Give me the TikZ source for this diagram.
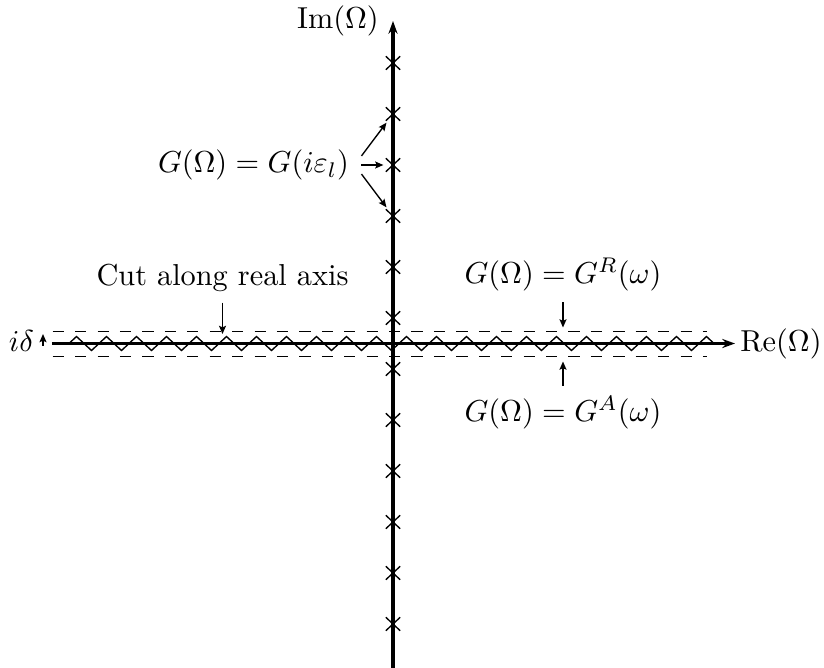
\documentclass[tikz,border=0pt]{standalone}
\usetikzlibrary{arrows.meta,decorations.pathmorphing,shapes.misc}
\begin{document}
\begin{tikzpicture}[x=0.33pt,y=-0.33pt,
  axis/.style={line width=1pt,-{Stealth[length=4.2pt,width=3pt]}},
  lab/.style={line width=0.45pt,-{Stealth[length=2.7pt,width=2.3pt,inset=0.5pt]}},
  pole/.style={cross out,draw,line width=0.45pt,minimum width=4.3pt,minimum height=4pt,inner sep=0pt},
  cutline/.style={line width=0.45pt,dash pattern=on 3.7pt off 3.7pt},
  zz/.style={line width=0.45pt,decorate,decoration={zigzag,segment length=9.9pt,amplitude=2.31pt}},
  txt/.style={inner sep=3.33pt}]
\useasboundingbox (0,0) rectangle (824,668);

% dashed boundaries of the cut
\draw[cutline] (52.7,331.7) -- (707,331.7);
\draw[cutline] (52.7,356.7) -- (707,356.7);
% the cut
\draw[zz] (69,343.5) -- (714,343.5);

% axes
\coordinate (xs) at (52,343.5);
\coordinate (xe) at (735,343.5);
\coordinate (ys) at (393,668);
\coordinate (ye) at (393,21);
\draw[axis] (xs) -- (xe);
\draw[axis] (ys) -- (ye);

% poles on the imaginary axis
\foreach \k [count=\i] in {0,...,5} {
  \node[pole] (pu\i) at (393,{343.5-25.5-51*\k}) {};
  \node[pole] (pd\i) at (393,{343.5+25.5+51*\k}) {};
}

% labels
\node[txt] (im) at (338,21) {$\mathrm{Im}(\Omega)$};
\node[txt] (re) at (781,344) {$\mathrm{Re}(\Omega)$};
\node[txt] (del) at (21.5,341) {$i\delta$};
\coordinate (d0) at (43,345.5);
\coordinate (d1) at (43,334);
\draw[lab] (d0) -- (d1);

\node[txt] (gi) at (253.5,165) {$G(\Omega)=G(i\varepsilon_l)$};
\draw[lab,shorten >=0.8pt] ([yshift=3pt,xshift=0.6pt]gi.east) -- (pu5);
\draw[lab,shorten >=0.8pt] ([xshift=0.6pt]gi.east) -- (pu4);
\draw[lab,shorten >=0.8pt] ([yshift=-3pt,xshift=0.6pt]gi.east) -- (pu3);

\node[txt] (cut) at (222.5,278) {Cut along real axis};
\coordinate (cutend) at (222.5,334);
\draw[lab] (cut) -- (cutend);

\node[txt] (gr) at (563,275) {$G(\Omega)=G^R(\omega)$};
\coordinate (grend) at (563,327.5);
\draw[lab] (gr) -- (grend);

\node[txt] (ga) at (563,413) {$G(\Omega)=G^A(\omega)$};
\coordinate (gaend) at (563,361.5);
\draw[lab] (ga) -- (gaend);
\end{tikzpicture}
\end{document}
